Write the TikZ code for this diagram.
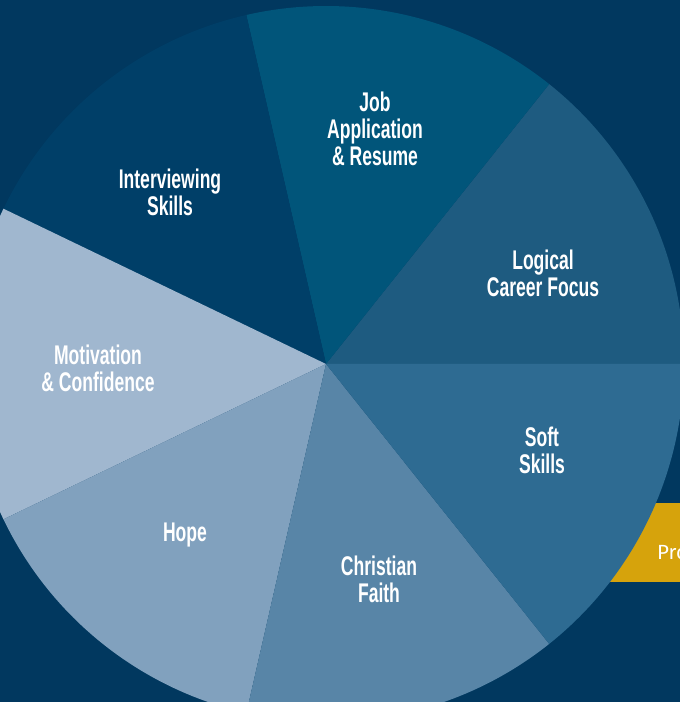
\documentclass[tikz,border=0pt]{standalone}
\usepackage{fontspec}
\setmainfont{Liberation Sans}
\newfontfamily\labelfont{Liberation Sans}[FakeStretch=0.65]
\newfontfamily\tabfont{Fira Sans}
\definecolor{bgnavy}{HTML}{01385F}
\definecolor{cInterview}{HTML}{003F68}
\definecolor{cJob}{HTML}{01557A}
\definecolor{cLogical}{HTML}{1E5B80}
\definecolor{cSoft}{HTML}{2E6B92}
\definecolor{cFaith}{HTML}{5885A7}
\definecolor{cHope}{HTML}{81A1BE}
\definecolor{cMotiv}{HTML}{A0B7CF}
\definecolor{tabgold}{HTML}{D6A30C}
\begin{document}
\begin{tikzpicture}[x=1pt,y=1pt,
  lbl/.style={text=white, font=\labelfont\bfseries\fontsize{27}{27}\selectfont, align=center, inner sep=0pt},
  tabtext/.style={text=white, font=\tabfont\fontsize{20.5}{24}\selectfont, inner sep=0pt, anchor=base west}]
\fill[bgnavy] (0,0) rectangle (680,702);
\useasboundingbox (0,0) rectangle (680,702);
% gold tab behind the pie
\fill[tabgold] (600,120) rectangle (690,199);
\node[tabtext] (tab) at (657,142) {Pro};
% pie
\coordinate (O) at (326,338);
\def\R{358}
\fill[cLogical]   (O) -- ++(0:\R)      arc[start angle=0,      end angle=51.43,  radius=\R] -- cycle;
\fill[cJob]       (O) -- ++(51.43:\R)  arc[start angle=51.43,  end angle=102.86, radius=\R] -- cycle;
\fill[cInterview] (O) -- ++(102.86:\R) arc[start angle=102.86, end angle=154.29, radius=\R] -- cycle;
\fill[cMotiv]     (O) -- ++(154.29:\R) arc[start angle=154.29, end angle=205.71, radius=\R] -- cycle;
\fill[cHope]      (O) -- ++(205.71:\R) arc[start angle=205.71, end angle=257.14, radius=\R] -- cycle;
\fill[cFaith]     (O) -- ++(257.14:\R) arc[start angle=257.14, end angle=308.57, radius=\R] -- cycle;
\fill[cSoft]      (O) -- ++(308.57:\R) arc[start angle=308.57, end angle=360,    radius=\R] -- cycle;
% labels
\node[lbl] (job)       at (375,573)   {Job\\Application\\\& Resume};
\node[lbl] (interview) at (170,510)   {Interviewing\\Skills};
\node[lbl] (logical)   at (543,428.5) {Logical\\Career Focus};
\node[lbl] (motiv)     at (98,333.5)  {Motivation\\\& Confidence};
\node[lbl] (soft)      at (542,252)   {Soft\\Skills};
\node[lbl, anchor=base] (hope) at (185,160) {Hope};
\node[lbl] (faith)     at (379,122.5) {Christian\\Faith};
\end{tikzpicture}
\end{document}
